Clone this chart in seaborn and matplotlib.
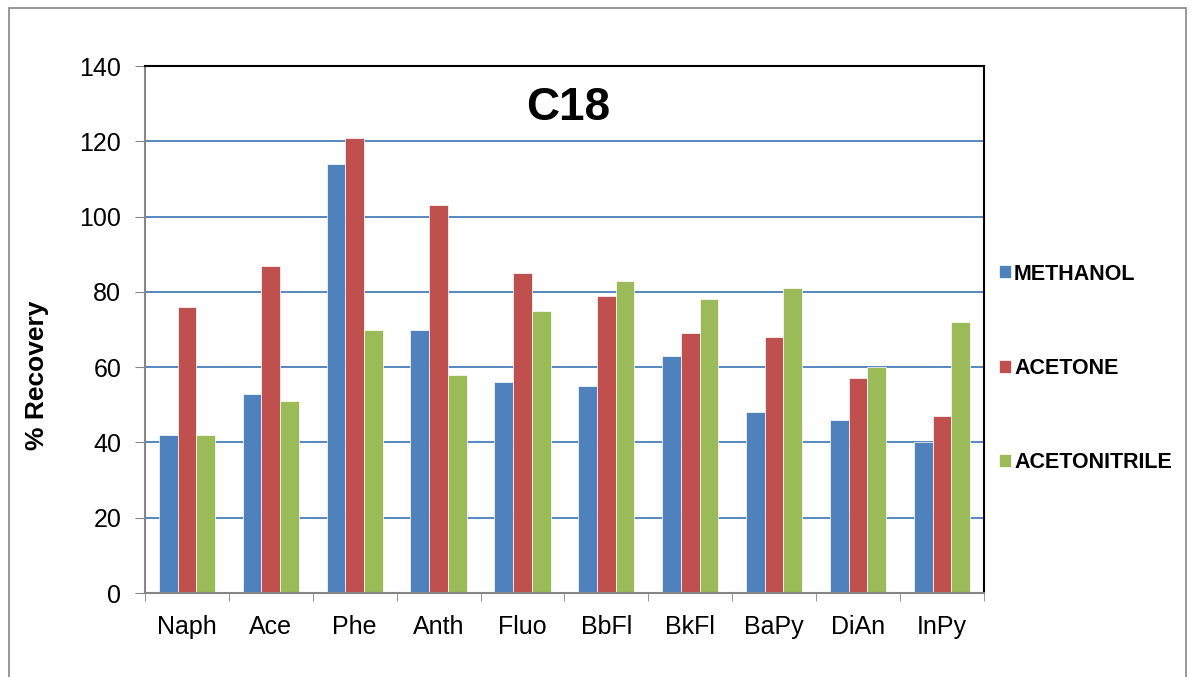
import pandas as pd
import matplotlib
matplotlib.use('Agg')
import matplotlib.pyplot as plt
import matplotlib.patches as mpatches
import numpy as np
import seaborn as sns

## Data
compounds = ['Naph', 'Ace', 'Phe', 'Anth', 'Fluo', 'BbFl', 'BkFl', 'BaPy', 'DiAn', 'InPy']
methanol = [42, 53, 114, 70, 56, 55, 63, 48, 46, 40]
acetone = [76, 87, 121, 103, 85, 79, 69, 68, 57, 47]
acetonitrile = [42, 51, 70, 58, 75, 83, 78, 81, 60, 72]
solvents = ['METHANOL', 'ACETONE', 'ACETONITRILE']
colors = ['#4F81BD', '#C0504D', '#9BBB59']

df = pd.DataFrame({'compound': compounds * 3,
                   'solvent': np.repeat(solvents, len(compounds)),
                   'recovery': methanol + acetone + acetonitrile})

sns.set_style('white')
plt.rcParams['font.family'] = ['Liberation Sans', 'DejaVu Sans']
plt.rcParams['text.color'] = 'black'
plt.rcParams['axes.labelcolor'] = 'black'
plt.rcParams['xtick.color'] = 'black'
plt.rcParams['ytick.color'] = 'black'

fig = plt.figure(figsize=(11.94, 6.77), dpi=100)
ax = fig.add_axes([0.1214, 0.124, 0.7026, 0.7785])

sns.barplot(data=df, x='compound', y='recovery', hue='solvent', palette=colors,
            width=0.67, ax=ax, saturation=1, edgecolor='white', linewidth=0.5, legend=True)

ax.set_ylim(0, 140)
ax.set_xlim(-0.5, len(compounds) - 0.5)
ax.set_yticks(np.arange(0, 141, 20))
ax.set_axisbelow(True)
for yv in range(20, 140, 20):
    ax.axhline(yv, color='#4A7EBB', linewidth=1.3, zorder=0)

ax.set_xlabel('')
ax.set_ylabel('% Recovery', fontsize=19, fontweight='bold')
ax.yaxis.set_label_coords(-0.114, 0.414)
ax.tick_params(axis='y', labelsize=18, direction='out', length=7, color='#868686', left=True, pad=10)
ax.tick_params(axis='x', labelsize=18, length=0, pad=16)
ax.set_xticks(np.arange(-0.5, len(compounds)), minor=True)
ax.tick_params(axis='x', which='minor', direction='out', length=6, color='#868686', bottom=True)

for s in ['left', 'bottom']:
    ax.spines[s].set_color('#868686')
    ax.spines[s].set_linewidth(1.5)
for s in ['top', 'right']:
    ax.spines[s].set_color('black')
    ax.spines[s].set_linewidth(1.5)

ax.text(0.505, 0.92, 'C18', transform=ax.transAxes, ha='center', va='center',
        fontsize=33, fontweight='bold')

handles, labels = ax.get_legend_handles_labels()
ax.legend(handles, labels, loc='center left', bbox_to_anchor=(0.8205, 0.456),
          bbox_transform=fig.transFigure, frameon=False, handlelength=0.55,
          handleheight=0.55, handletextpad=0.15, labelspacing=3.4,
          prop={'size': 15.5, 'weight': 'bold'})

# outer chart border
fig.patches.append(mpatches.Rectangle((0.0075, -0.01), 0.986, 0.998, transform=fig.transFigure,
                                      fill=False, edgecolor='#868686', linewidth=1.2))

plt.savefig('out.png', dpi=100)
